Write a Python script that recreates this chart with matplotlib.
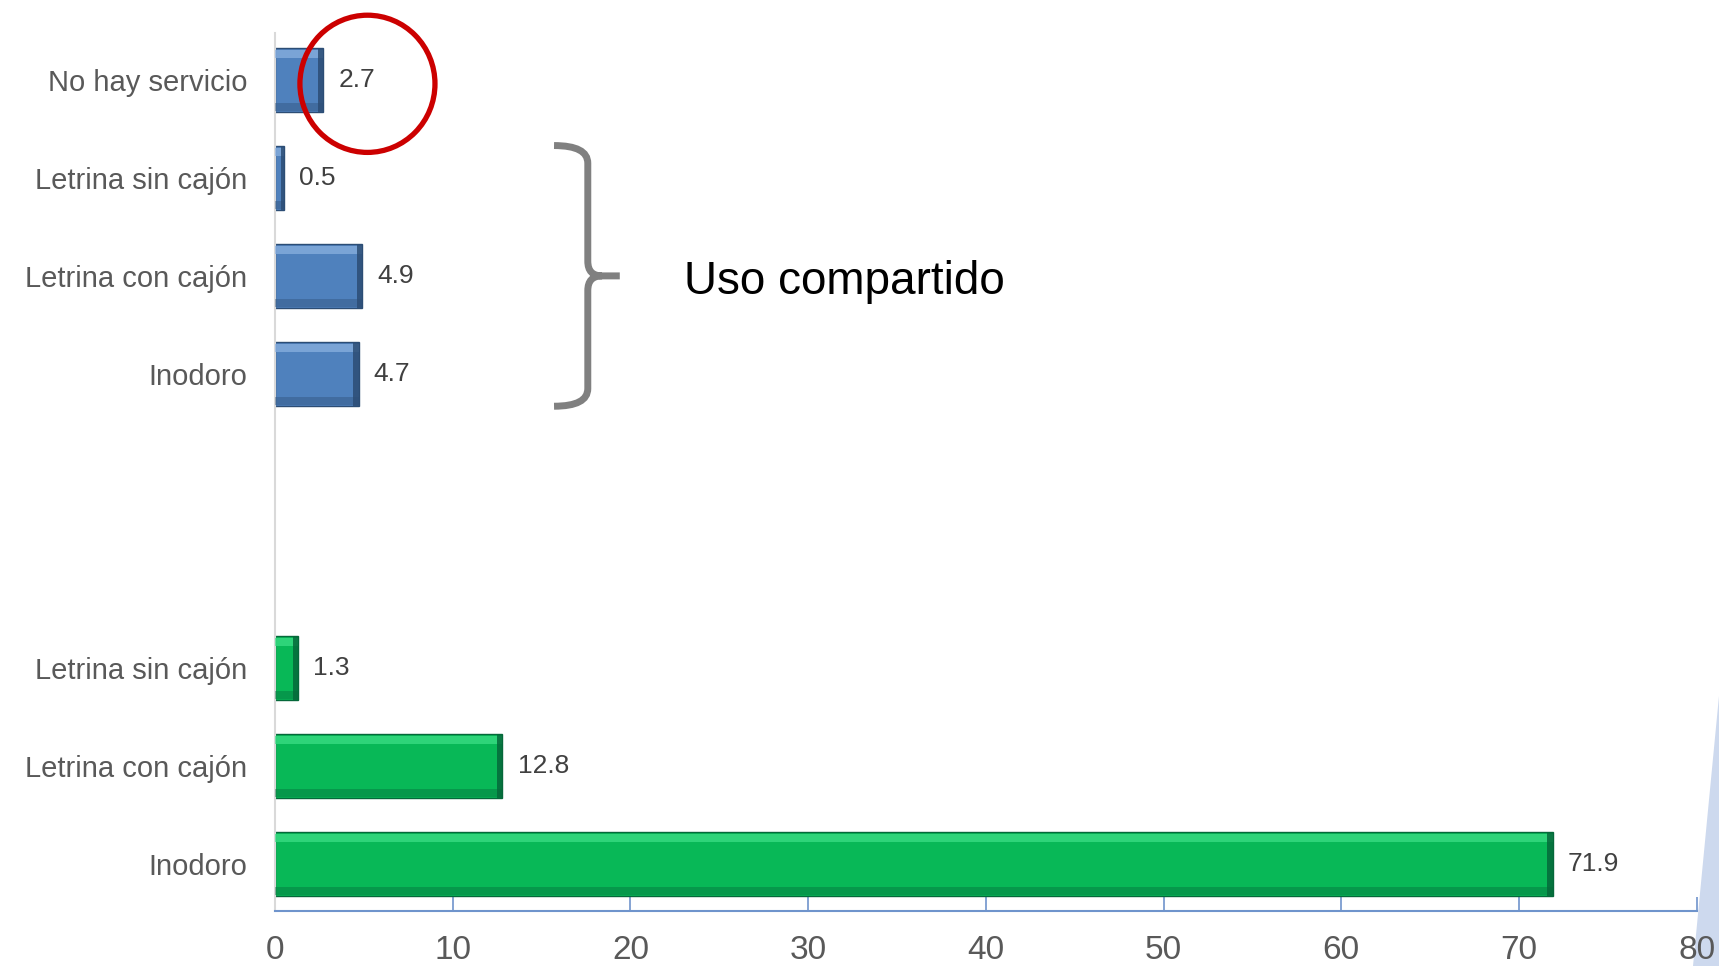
import matplotlib.pyplot as plt
from matplotlib.patches import Ellipse, PathPatch, Polygon
from matplotlib.path import Path

# own-use facilities (bottom group), shared-use facilities (top group)
own_labels = ["Inodoro", "Letrina con cajón", "Letrina sin cajón"]
own_values = [71.9, 12.8, 1.3]
shared_labels = ["Inodoro", "Letrina con cajón", "Letrina sin cajón"]
shared_values = [4.7, 4.9, 0.5]
none_label = "No hay servicio"
none_value = 2.7
x_ticks = [0, 10, 20, 30, 40, 50, 60, 70, 80]

own_pos = [0, 1, 2]
shared_pos = [5, 6, 7]
none_pos = 8

BLUE = ("#4F81BD", "#8DB3E2", "#2C4D75")
GREEN = ("#08B857", "#3FE088", "#05683A")
BAR_H = 0.65

plt.rcParams["font.family"] = ["Liberation Sans", "DejaVu Sans"]

fig = plt.figure(figsize=(17.19, 9.66), dpi=100)
ax = fig.add_axes([0.16, 0.057, 0.827, 0.909])


def bevel_bar(ax, y, v, colors):
    base, light, dark = colors
    ax.barh(y, v, height=BAR_H, color=base, edgecolor=dark, linewidth=1.0, zorder=2)
    strip = BAR_H * 0.12
    ax.barh(y + BAR_H / 2 - strip / 2 - 0.02, v, height=strip, color=light,
            linewidth=0, alpha=0.7, zorder=3)
    ax.barh(y - BAR_H / 2 + strip / 2 + 0.01, v, height=strip, color=dark,
            linewidth=0, alpha=0.4, zorder=3)
    end = min(0.3, v * 0.35)
    ax.barh(y, end, left=v - end, height=BAR_H, color=dark, linewidth=0,
            alpha=0.85, zorder=4)
    ax.annotate(f"{v:.1f}", (v, y), xytext=(11, 0), textcoords="offset points",
                va="center", ha="left", fontsize=19, color="#404040")


for y, v in zip(own_pos, own_values):
    bevel_bar(ax, y, v, GREEN)
for y, v in zip(shared_pos, shared_values):
    bevel_bar(ax, y, v, BLUE)
bevel_bar(ax, none_pos, none_value, BLUE)

ax.set_xlim(0, 80)
ax.set_ylim(-0.48, 8.48)
ax.set_xticks(x_ticks)
ax.set_xticklabels([str(t) for t in x_ticks])
ax.set_yticks(own_pos + shared_pos + [none_pos])
ax.set_yticklabels(own_labels + shared_labels + [none_label])

ax.tick_params(axis="x", direction="in", length=10, width=1.2, color="#6F94CC",
               labelsize=24, labelcolor="#595959", pad=17)
ax.tick_params(axis="y", length=0, labelsize=21, labelcolor="#595959", pad=20)

for s in ("top", "right"):
    ax.spines[s].set_visible(False)
ax.spines["left"].set_color("#D9D9D9")
ax.spines["left"].set_linewidth(1.5)
ax.spines["bottom"].set_color("#6F94CC")
ax.spines["bottom"].set_linewidth(1.5)

# red circle round the "No hay servicio" value
ax.add_patch(Ellipse((5.2, 7.96), 7.6, 1.4, fill=False, edgecolor="#CC0000",
                     linewidth=3.8, zorder=6, clip_on=False))

# brace grouping the shared-use rows
verts = [(15.7, 7.33), (17.6, 7.33), (17.6, 7.15),
         (17.6, 6.15),
         (17.6, 6.0), (18.4, 6.0),
         (19.4, 6.0),
         (18.4, 6.0), (17.6, 6.0), (17.6, 5.85),
         (17.6, 4.85),
         (17.6, 4.67), (15.7, 4.67)]
codes = [Path.MOVETO, Path.CURVE3, Path.CURVE3,
         Path.LINETO,
         Path.CURVE3, Path.CURVE3,
         Path.LINETO,
         Path.MOVETO, Path.CURVE3, Path.CURVE3,
         Path.LINETO,
         Path.CURVE3, Path.CURVE3]
ax.add_patch(PathPatch(Path(verts, codes), fill=False, edgecolor="#808080",
                       linewidth=5, capstyle="butt", zorder=5))
ax.text(23.0, 5.94, "Uso compartido", fontsize=33, color="black",
        va="center", ha="left")

# light blue slide decoration at the bottom right corner, behind the axes
fig.patches.append(Polygon([(1.0, 0.28), (1.0, 0.0), (0.985, 0.0)],
                           closed=True, transform=fig.transFigure,
                           facecolor="#CDD9EE", edgecolor="none", zorder=-1))
ax.set_zorder(1)
ax.patch.set_alpha(0)

fig.savefig("out.png", dpi=100)
